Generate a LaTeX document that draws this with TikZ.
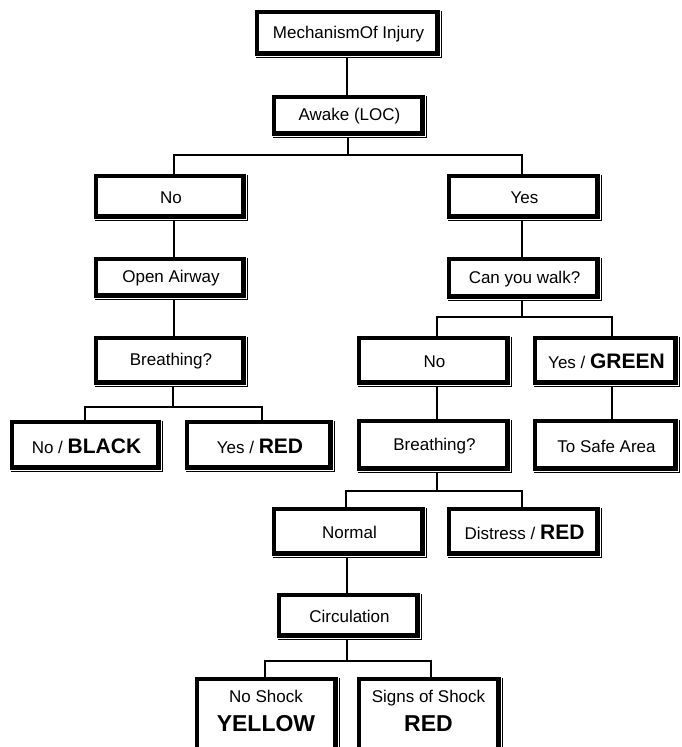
\documentclass[tikz,border=0pt]{standalone}
\usepackage{fontspec}
\setmainfont{Liberation Sans}
\newcommand{\bigb}[1]{{\fontsize{21}{24}\selectfont\bfseries #1}}
\newcommand{\bigc}[1]{{\fontsize{23}{26}\selectfont\bfseries #1}}
\tikzset{
  tbox/.style={inner sep=0pt, font=\fontsize{17}{20}\selectfont, text=black, align=center},
  conn/.style={line width=1.5pt, line join=miter},
  frame/.style={line width=4.5pt},
  edge/.style={line width=1pt}
}
\begin{document}
\begin{tikzpicture}[x=1pt,y=-1pt]
\useasboundingbox (0,0) rectangle (681,747);
\fill[white] (0,0) rectangle (681,747);
\clip (0,0) rectangle (681,747);

% boxes (centres in image pixels, y downwards)
\node[tbox, minimum width=187pt, minimum height=48pt] (mech) at (348.5,34) {MechanismOf Injury};
\node[tbox, minimum width=155pt, minimum height=43pt] (awake) at (349.5,116.5) {Awake (LOC)};
\node[tbox, minimum width=154pt, minimum height=47pt] (no1) at (171,197.5) {No};
\node[tbox, minimum width=155pt, minimum height=47pt] (yes1) at (524.5,197.5) {Yes};
\node[tbox, minimum width=154pt, minimum height=43pt] (open) at (171,278.5) {Open Airway};
\node[tbox, minimum width=155pt, minimum height=44pt] (walk) at (524.5,279) {Can you walk?};
\node[tbox, minimum width=154pt, minimum height=51pt] (br1) at (171,361.5) {Breathing?};
\node[tbox, minimum width=155pt, minimum height=51pt] (no2) at (434.5,361.5) {No};
\node[tbox, minimum width=147pt, minimum height=51pt] (green) at (606.5,361.5) {Yes / \bigb{GREEN}};
\node[tbox, minimum width=153pt, minimum height=52pt] (black) at (86.5,446) {No / \bigb{BLACK}};
\node[tbox, minimum width=150pt, minimum height=52pt] (red1) at (260,446) {Yes / \bigb{RED}};
\node[tbox, minimum width=155pt, minimum height=54pt] (br2) at (434.5,446) {Breathing?};
\node[tbox, minimum width=147pt, minimum height=54pt] (safe) at (606.5,446) {To Safe Area};
\node[tbox, minimum width=155pt, minimum height=51pt] (normal) at (349.5,532.5) {Normal};
\node[tbox, minimum width=155pt, minimum height=51pt] (distress) at (524.5,532.5) {Distress / \bigb{RED}};
\node[tbox, minimum width=145pt, minimum height=47pt] (circ) at (349.5,616.5) {Circulation};
\node[tbox, minimum width=145pt, minimum height=84pt] (noshock) at (267.5,719) {};
\node[tbox, minimum width=146pt, minimum height=84pt] (signs) at (430,719) {};
\node[tbox] (noshockT) at (266,711) {No Shock\\[9pt]\bigc{YELLOW}};
\node[tbox] (signsT) at (428.5,711) {Signs of Shock\\[9pt]\bigc{RED}};

% frames
\foreach \n in {mech,awake,no1,yes1,open,walk,br1,no2,green,black,red1,br2,safe,normal,distress,circ,noshock,signs}{
  \draw[frame] ([xshift=2.25pt,yshift=-2.25pt]\n.north west) rectangle ([xshift=-4.75pt,yshift=4.75pt]\n.south east);
  \draw[edge] ([xshift=-0.5pt,yshift=-1pt]\n.north east) -- ([xshift=-0.5pt,yshift=0.5pt]\n.south east) -- ([xshift=1pt,yshift=0.5pt]\n.south west);
}

% junction points
\coordinate (j1) at (348,155);
\coordinate (j2) at (522,317);
\coordinate (j3) at (173,407);
\coordinate (j4) at (437,491);
\coordinate (j5) at (347,661);

% connectors
\draw[conn] (mech.south -| 347,0) -- (awake.north -| 347,0);
\draw[conn] (awake.south -| j1) -- (j1);
\draw[conn] (no1.north -| 174,0) |- (j1) -| (yes1.north -| 522,0);
\draw[conn] (no1.south -| 174,0) -- (open.north -| 174,0);
\draw[conn] (open.south -| 174,0) -- (br1.north -| 174,0);
\draw[conn] (yes1.south -| 522,0) -- (walk.north -| 522,0);
\draw[conn] (walk.south -| j2) -- (j2);
\draw[conn] (no2.north -| 437,0) |- (j2) -| (green.north -| 612,0);
\draw[conn] (br1.south -| j3) -- (j3);
\draw[conn] (black.north -| 85,0) |- (j3) -| (red1.north -| 262,0);
\draw[conn] (no2.south -| 437,0) -- (br2.north -| 437,0);
\draw[conn] (green.south -| 612,0) -- (safe.north -| 612,0);
\draw[conn] (br2.south -| j4) -- (j4);
\draw[conn] (normal.north -| 346,0) |- (j4) -| (distress.north -| 522,0);
\draw[conn] (normal.south -| 347,0) -- (circ.north -| 347,0);
\draw[conn] (circ.south -| j5) -- (j5);
\draw[conn] (noshock.north -| 265,0) |- (j5) -| (signs.north -| 431,0);
\end{tikzpicture}
\end{document}
